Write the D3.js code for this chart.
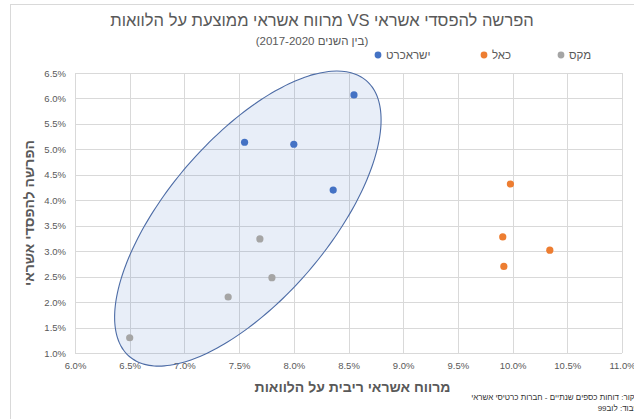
<!DOCTYPE html>
<html lang="he">
<head>
<meta charset="utf-8">
<script src="https://cdn.jsdelivr.net/npm/d3@7"></script>
<style>
  html, body { margin: 0; padding: 0; background: #fff; }
  svg { display: block; font-family: "Liberation Sans", Arial, "DejaVu Sans", sans-serif; }
</style>
</head>
<body>
<svg id="chart" width="634" height="419"></svg>
<script>
// ---- data ----
const titleText = "הפרשה להפסדי אשראי VS מרווח אשראי ממוצעת על הלוואות";
const subtitleText = "(בין השנים 2017-2020)";
const xAxisTitle = "מרווח אשראי ריבית על הלוואות";
const yAxisTitle = "הפרשה להפסדי אשראי";
const sourceLines = ["מקור: דוחות כספים שנתיים - חברות כרטיסי אשראי", "עיבוד: לוב99"];

const seriesNames = ["ישראכרט", "כאל", "מקס"];
const seriesColors = ["#4472C4", "#ED7D31", "#A5A5A5"];

const isracardX = [8.55, 7.55, 8.00, 8.36];
const isracardY = [6.07, 5.14, 5.10, 4.20];
const calX = [9.98, 9.91, 10.34, 9.92];
const calY = [4.32, 3.28, 3.02, 2.70];
const maxX = [6.50, 7.40, 7.69, 7.80];
const maxY = [1.30, 2.10, 3.24, 2.48];

const xTicks = [6.0, 6.5, 7.0, 7.5, 8.0, 8.5, 9.0, 9.5, 10.0, 10.5, 11.0];
const yTicks = [1.0, 1.5, 2.0, 2.5, 3.0, 3.5, 4.0, 4.5, 5.0, 5.5, 6.0, 6.5];

// highlight ellipse (data units): centre, semi-axis vectors
const ellipseCenter = [7.58, 3.64];
const ellipseAxisA = [1.083, 2.709];
const ellipseAxisB = [0.557, -1.029];

// ---- drawing ----
const svg = d3.select("#chart");
const W = 634, H = 419;
const plot = { left: 75, right: 622, top: 73, bottom: 353 };

const x = d3.scaleLinear().domain([6, 11]).range([plot.left, plot.right]);
const y = d3.scaleLinear().domain([1, 6.5]).range([plot.bottom, plot.top]);

const textColor = "#595959";
const gridColor = "#d9d9d9";

// outer chart border
svg.append("rect")
  .attr("x", 10.5).attr("y", 4.5)
  .attr("width", W).attr("height", H)
  .attr("fill", "none").attr("stroke", gridColor).attr("stroke-width", 1);

// gridlines
svg.append("g").selectAll("line").data(yTicks).join("line")
  .attr("x1", plot.left).attr("x2", plot.right)
  .attr("y1", d => Math.round(y(d)) + 0.5).attr("y2", d => Math.round(y(d)) + 0.5)
  .attr("stroke", gridColor).attr("stroke-width", 1);
svg.append("g").selectAll("line").data(xTicks).join("line")
  .attr("y1", plot.top).attr("y2", plot.bottom)
  .attr("x1", d => Math.round(x(d)) + 0.5).attr("x2", d => Math.round(x(d)) + 0.5)
  .attr("stroke", gridColor).attr("stroke-width", 1);

// axes labels via d3 axes
const fmt = d => d3.format(".1f")(d) + "%";
const xAxis = svg.append("g")
  .attr("transform", `translate(0,${plot.bottom})`)
  .call(d3.axisBottom(x).tickValues(xTicks).tickFormat(fmt).tickSize(0).tickPadding(9));
const yAxis = svg.append("g")
  .attr("transform", `translate(${plot.left},0)`)
  .call(d3.axisLeft(y).tickValues(yTicks).tickFormat(fmt).tickSize(0).tickPadding(9));
[xAxis, yAxis].forEach(g => {
  g.select(".domain").remove();
  g.selectAll("text").attr("fill", textColor).attr("font-size", 9.5)
    .attr("font-family", "'Liberation Sans', Arial, sans-serif");
});

// ellipse highlight
const tVals = d3.range(0, 360, 3).map(d => d * Math.PI / 180);
const ellipsePts = tVals.map(t => [
  x(ellipseCenter[0] + Math.cos(t) * ellipseAxisA[0] + Math.sin(t) * ellipseAxisB[0]),
  y(ellipseCenter[1] + Math.cos(t) * ellipseAxisA[1] + Math.sin(t) * ellipseAxisB[1])
]);
svg.append("path")
  .attr("d", d3.line().curve(d3.curveCardinalClosed)(ellipsePts))
  .attr("fill", "#4472C4").attr("fill-opacity", 0.12)
  .attr("stroke", "#4d6ca6").attr("stroke-width", 1.1);

// points
const seriesData = [
  d3.zip(isracardX, isracardY),
  d3.zip(calX, calY),
  d3.zip(maxX, maxY)
];
seriesData.forEach((pts, i) => {
  svg.append("g").selectAll("circle").data(pts).join("circle")
    .attr("cx", d => x(d[0])).attr("cy", d => y(d[1]))
    .attr("r", 3.6).attr("fill", seriesColors[i]);
});

// title & subtitle (right-to-left)
svg.append("text").attr("x", 322).attr("y", 26)
  .attr("direction", "rtl").attr("text-anchor", "middle").attr("fill", textColor)
  .attr("font-size", 16.5).text(titleText);
svg.append("text").attr("x", 312).attr("y", 45)
  .attr("direction", "rtl").attr("text-anchor", "middle").attr("fill", textColor)
  .attr("font-size", 11.5).text(subtitleText);

// legend (dot left of label)
const legendDotX = [378, 484, 561];
seriesNames.forEach((name, i) => {
  svg.append("circle").attr("cx", legendDotX[i]).attr("cy", 55)
    .attr("r", 3.4).attr("fill", seriesColors[i]);
  svg.append("text").attr("x", legendDotX[i] + 8).attr("y", 59)
    .attr("text-anchor", "start").attr("fill", textColor)
    .attr("font-size", 11.5).text(name);
});

// axis titles
svg.append("text").attr("x", (plot.left + plot.right) / 2 + 4).attr("y", 392)
  .attr("direction", "rtl").attr("text-anchor", "middle").attr("fill", textColor)
  .attr("font-size", 14).attr("font-weight", "bold").text(xAxisTitle);
svg.append("text")
  .attr("transform", `translate(34,${(plot.top + plot.bottom) / 2}) rotate(-90)`)
  .attr("direction", "rtl").attr("text-anchor", "middle").attr("fill", textColor)
  .attr("font-size", 14).attr("font-weight", "bold").text(yAxisTitle);

// source note (right-aligned; clipped at the right edge as in the original)
sourceLines.forEach((line, i) => {
  svg.append("text").attr("x", 640).attr("y", 400 + i * 10.5)
    .attr("direction", "rtl").attr("text-anchor", "start").attr("fill", "#333")
    .attr("font-size", 8).text(line);
});
</script>
</body>
</html>
